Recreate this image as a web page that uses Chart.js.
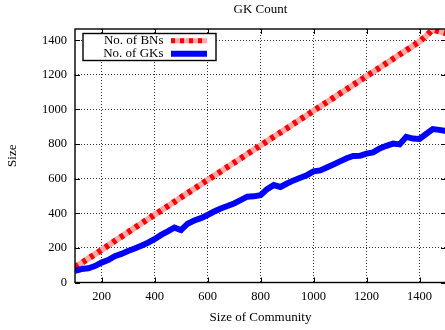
<!DOCTYPE html>
<html>
<head>
<meta charset="utf-8">
<title>GK Count</title>
<script src="https://cdn.jsdelivr.net/npm/chart.js@4/dist/chart.umd.min.js"></script>
<style>
  html, body { margin: 0; padding: 0; background: #fff; overflow: hidden; }
  canvas { display: block; }
</style>
</head>
<body>
<canvas id="chart" width="450" height="330"></canvas>
<script>
// GK Count: BNs vs GKs by community size

const SIZES = [
  100, 125, 150, 175, 200, 225, 250, 275, 300, 325, 350, 375, 400, 425, 450, 475,
  500, 525, 550, 575, 600, 625, 650, 675, 700, 725, 750, 775, 800, 825, 850, 875,
  900, 925, 950, 975, 1000, 1025, 1050, 1075, 1100, 1125, 1150, 1175, 1200, 1225,
  1250, 1275, 1300, 1325, 1350, 1375, 1400, 1425, 1450, 1475, 1500,
];

const BNS = [
  90, 113, 138, 163, 188, 214, 240, 265, 290, 316, 341, 366, 391, 416, 441, 466,
  492, 517, 542, 567, 592, 617, 642, 667, 692, 717, 742, 767, 792, 817, 842, 867,
  892, 917, 942, 967, 992, 1017, 1042, 1067, 1092, 1117, 1142, 1167, 1192, 1217,
  1242, 1267, 1292, 1317, 1342, 1367, 1392, 1425, 1462, 1451, 1440,
];

const GKS = [
  68, 78, 82, 95, 115, 130, 152, 165, 182, 196, 213, 230, 250, 275, 295, 317,
  303, 340, 358, 372, 390, 410, 428, 442, 457, 476, 496, 498, 505, 540, 563, 552,
  572, 590, 605, 620, 642, 648, 665, 682, 700, 718, 731, 732, 745, 752,
  775, 790, 803, 798, 842, 832, 830, 858, 887, 882, 875,
];

const X_TICKS = [200, 400, 600, 800, 1000, 1200, 1400];
const Y_TICKS = [0, 200, 400, 600, 800, 1000, 1200, 1400];
const SERIES = ['No. of BNs', 'No. of GKs'];

const FONT = 'Liberation Serif';
const BN_RED = '#ff0000';
const BN_PINK = '#ffa8a8';
const GK_BLUE = '#0000ff';

function points(ys) {
  return SIZES.map((x, i) => ({ x, y: ys[i] }));
}

// gnuplot-like frame, inward ticks and boxed legend
const framePlugin = {
  id: 'frame',
  afterDraw(chart) {
    const { ctx, chartArea: a, scales: { x, y } } = chart;
    ctx.save();
    ctx.strokeStyle = '#000';
    ctx.lineWidth = 1.4;
    ctx.strokeRect(a.left, a.top, a.right - a.left, a.bottom - a.top);

    ctx.lineWidth = 1;
    ctx.beginPath();
    for (const v of X_TICKS) {
      const px = Math.round(x.getPixelForValue(v)) + 0.5;
      ctx.moveTo(px, a.bottom); ctx.lineTo(px, a.bottom - 5);
      ctx.moveTo(px, a.top); ctx.lineTo(px, a.top + 5);
    }
    for (const v of Y_TICKS) {
      const py = Math.round(y.getPixelForValue(v)) + 0.5;
      ctx.moveTo(a.left, py); ctx.lineTo(a.left + 5, py);
      ctx.moveTo(a.right, py); ctx.lineTo(a.right - 5, py);
    }
    ctx.stroke();

    // legend box
    const bx = 83, by = 33.5, bw = 133, bh = 27;
    ctx.fillStyle = '#fff';
    ctx.fillRect(bx, by, bw, bh);
    ctx.lineWidth = 1.4;
    ctx.strokeRect(bx, by, bw, bh);

    ctx.font = `13px "${FONT}"`;
    ctx.fillStyle = '#000';
    ctx.textAlign = 'right';
    ctx.textBaseline = 'middle';
    const rows = [40.7, 53.7];
    ctx.fillText(SERIES[0], 163.5, rows[0]);
    ctx.fillText(SERIES[1], 163.5, rows[1]);

    ctx.lineCap = 'butt';
    ctx.lineWidth = 5;
    ctx.strokeStyle = BN_PINK;
    ctx.beginPath(); ctx.moveTo(171, rows[0]); ctx.lineTo(207, rows[0]); ctx.stroke();
    ctx.strokeStyle = BN_RED;
    ctx.setLineDash([4, 5]);
    ctx.beginPath(); ctx.moveTo(171, rows[0]); ctx.lineTo(207, rows[0]); ctx.stroke();
    ctx.setLineDash([]);
    ctx.lineWidth = 6;
    ctx.strokeStyle = GK_BLUE;
    ctx.beginPath(); ctx.moveTo(171, rows[1]); ctx.lineTo(207, rows[1]); ctx.stroke();
    ctx.restore();
  },
};

function axisTicks(values) {
  return scale => { scale.ticks = values.map(v => ({ value: v })); };
}

const gridOpts = { color: 'rgba(0,0,0,0.8)', drawTicks: false, lineWidth: 1 };
const tickFont = { family: FONT, size: 12.5 };
const titleFont = { family: FONT, size: 13 };
const plainNumber = v => String(v);

new Chart(document.getElementById('chart'), {
  type: 'line',
  data: {
    datasets: [
      {
        label: SERIES[1],
        data: points(GKS),
        borderColor: GK_BLUE,
        borderWidth: 6,
        pointRadius: 0,
        tension: 0,
        clip: 0,
        order: 0,
      },
      {
        label: SERIES[0],
        data: points(BNS),
        borderColor: BN_RED,
        borderWidth: 6,
        borderDash: [4, 5],
        borderCapStyle: 'butt',
        pointRadius: 0,
        tension: 0,
        clip: 0,
        order: 1,
      },
      {
        label: SERIES[0] + ' base',
        data: points(BNS),
        borderColor: BN_PINK,
        borderWidth: 6,
        pointRadius: 0,
        tension: 0,
        clip: 0,
        order: 2,
      },
    ],
  },
  options: {
    responsive: false,
    animation: false,
    layout: { padding: { top: 0, left: 0, right: 4, bottom: 0 } },
    scales: {
      x: {
        type: 'linear',
        min: 100,
        max: 1500,
        afterBuildTicks: axisTicks(X_TICKS),
        afterFit: s => { s.height = 47.5; },
        grid: gridOpts,
        border: { display: false, dash: [1, 2] },
        ticks: { font: tickFont, color: '#000', padding: 7, maxRotation: 0, autoSkip: false, callback: plainNumber },
        title: { display: true, text: 'Size of Community', font: titleFont, color: '#000', padding: { top: 0, bottom: 5 } },
      },
      y: {
        min: 0,
        max: 1465,
        afterBuildTicks: axisTicks(Y_TICKS),
        afterFit: s => { s.width = 75; },
        grid: gridOpts,
        border: { display: false, dash: [1, 2] },
        ticks: { font: tickFont, color: '#000', padding: 8, autoSkip: false, callback: plainNumber },
        title: { display: true, text: 'Size', font: titleFont, color: '#000', padding: { top: 4.5, bottom: 0 } },
      },
    },
    plugins: {
      legend: { display: false },
      tooltip: { enabled: false },
      title: {
        display: true,
        text: 'GK Count',
        fullSize: false,
        color: '#000',
        font: { family: FONT, size: 13, weight: 'normal' },
        padding: { top: 1.7, bottom: 11.7 },
      },
    },
  },
  plugins: [framePlugin],
});
</script>
</body>
</html>
